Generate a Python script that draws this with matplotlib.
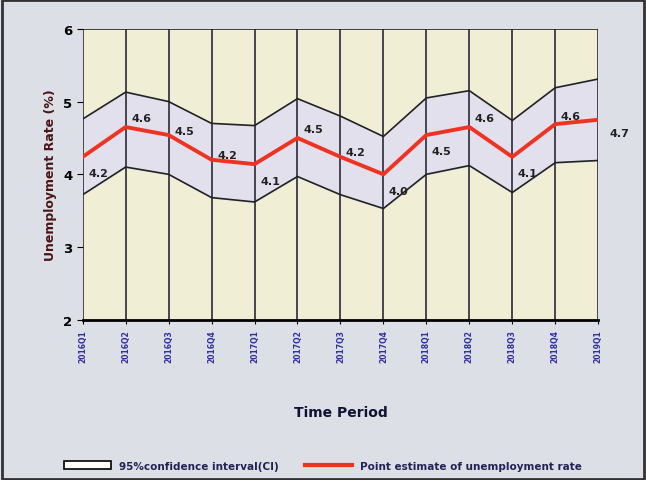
import matplotlib.pyplot as plt
import numpy as np

periods = ['2016Q1', '2016Q2', '2016Q3', '2016Q4', '2017Q1', '2017Q2', '2017Q3',
           '2017Q4', '2018Q1', '2018Q2', '2018Q3', '2018Q4', '2019Q1']
point_est = [4.24, 4.65, 4.54, 4.20, 4.14, 4.50, 4.24, 4.00, 4.54, 4.65, 4.24, 4.69, 4.75]
upper_ci = [4.76, 5.13, 5.00, 4.70, 4.67, 5.04, 4.80, 4.52, 5.05, 5.15, 4.74, 5.19, 5.31]
lower_ci = [3.72, 4.10, 4.00, 3.68, 3.62, 3.97, 3.72, 3.53, 4.00, 4.12, 3.75, 4.16, 4.19]
value_labels = ['4.2', '4.6', '4.5', '4.2', '4.1', '4.5', '4.2', '4.0', '4.5', '4.6', '4.1', '4.6', '4.7']
# label offsets in points (dx, dy)
label_off = [(4, -14), (4, 4), (4, 1), (4, 1), (4, -14), (4, 4), (4, 1),
             (4, -14), (4, -14), (4, 4), (4, -14), (4, 4), (8, -12)]

fig = plt.figure(figsize=(6.46, 4.81), dpi=100)
fig.patch.set_facecolor('#dcdfe6')
ax = fig.add_axes([0.128, 0.333, 0.798, 0.605])
ax.set_facecolor('#f1eed6')

x = np.arange(len(periods))
ax.fill_between(x, lower_ci, upper_ci, color='#e2e0ec', zorder=1)
ax.plot(x, upper_ci, color='#222222', lw=1.2, zorder=3)
ax.plot(x, lower_ci, color='#222222', lw=1.2, zorder=3)
ax.plot(x, point_est, color='#ee3322', lw=2.8, zorder=4)

for xi in x:
    ax.axvline(xi, color='#2a2a3a', lw=1.2, zorder=2)

for xi, yi, lab, (dx, dy) in zip(x, point_est, value_labels, label_off):
    ax.annotate(lab, (xi, yi), xytext=(dx, dy), textcoords='offset points',
                fontsize=8, fontweight='bold', color='#222222', zorder=5)

ax.set_xlim(0, 12)
ax.set_ylim(2, 6)
ax.set_yticks([2, 3, 4, 5, 6])
ax.set_xticks(x)
ax.set_xticklabels(periods, rotation=90, fontsize=5.5, fontweight='bold', color='#3030a0')
ax.tick_params(axis='y', labelsize=9.5, length=4)
for t in ax.get_yticklabels():
    t.set_fontweight('bold')
ax.tick_params(axis='x', length=3)

for s in ['left', 'right', 'top']:
    ax.spines[s].set_visible(False)
ax.spines['bottom'].set_linewidth(2)
ax.axhline(6, color='#222222', lw=1.2, zorder=2)

ax.set_ylabel('Unemployment Rate (%)', fontsize=9, fontweight='bold', color='#4a1515')
ax.set_xlabel('Time Period', fontsize=10, fontweight='bold', color='#111133', labelpad=31)

h1 = plt.Rectangle((0, 0), 1, 1, facecolor='white', edgecolor='black', lw=1.2)
h2, = plt.plot([], [], color='#ee3322', lw=3)
fig.legend([h1, h2], ['95%confidence interval(CI)', 'Point estimate of unemployment rate'],
           loc='lower center', bbox_to_anchor=(0.5, 0.0), ncol=2, frameon=False,
           prop={'size': 7.5, 'weight': 'bold'}, handlelength=4.5, columnspacing=2.5,
           labelcolor='#222255')

border = plt.Rectangle((0.003, 0.003), 0.994, 0.994, transform=fig.transFigure,
                       fill=False, edgecolor='#333333', lw=2)
fig.patches.append(border)

fig.savefig('out.png', dpi=100)
